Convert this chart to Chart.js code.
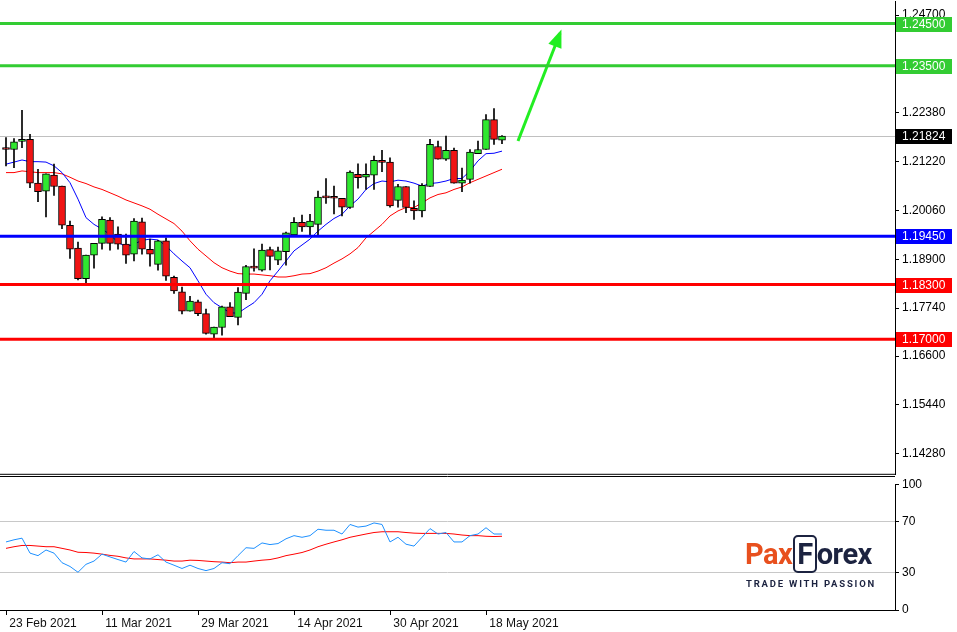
<!DOCTYPE html>
<html>
<head>
<meta charset="utf-8">
<script src="https://cdn.jsdelivr.net/npm/chart.js@4.4.0/dist/chart.umd.min.js"></script>
<style>
  body { margin: 0; background: #fff; width: 957px; height: 632px; overflow: hidden; position: relative; font-family: "Liberation Sans", Arial, sans-serif; }
  #main { position: absolute; left: 0; top: -9px; }
  #rsi { position: absolute; left: 0; top: 474px; }
  .logo { position: absolute; left: 745px; top: 538px; font-family: Roboto, sans-serif; font-weight: 700; font-size: 29px; letter-spacing: -0.5px; line-height: 32px; }
  .logo .o { color: #e8501e; }
  .logo .n { color: #1c2340; }
  .logo .f { color: #1c2340; border: 2px solid #1c2340; border-radius: 5px; padding: 0 2px; margin-left: 1px; }
  .tag { position: absolute; left: 746px; top: 578px; font-family: Roboto, sans-serif; font-weight: 700; font-size: 9.5px; letter-spacing: 1.8px; color: #1c2340; }
</style>
</head>
<body>
<canvas id="main" width="957" height="494"></canvas>
<canvas id="rsi" width="957" height="158"></canvas>
<div class="logo"><span class="o">Pax</span><span class="f">F</span><span class="n">orex</span></div>
<div class="tag">TRADE WITH PASSION</div>
<script>
// EURUSD daily, 63 candles
const opens  = [1.2155,1.2151,1.2170,1.2175,1.2071,1.2052,1.2090,1.2064,1.1971,1.1917,1.1844,1.1900,1.1928,1.1983,1.1950,1.1926,1.1902,1.1979,1.1914,1.1878,1.1934,1.1847,1.1813,1.1767,1.1789,1.1761,1.1712,1.1728,1.1777,1.1752,1.1809,1.1874,1.1864,1.1913,1.1888,1.1908,1.1948,1.1978,1.1967,1.1973,1.2039,1.2036,1.2035,1.2013,1.2092,1.2085,1.2090,1.2125,1.2121,1.2030,1.2063,1.2011,1.2005,1.2063,1.2158,1.2128,1.2149,1.2071,1.2080,1.2141,1.2151,1.2222,1.2173];
const highs  = [1.2179,1.2177,1.2244,1.2187,1.2104,1.2093,1.2116,1.2064,1.1981,1.1931,1.1900,1.1928,1.1991,1.1989,1.1967,1.1950,1.1987,1.1988,1.1938,1.1935,1.1941,1.1850,1.1824,1.1802,1.1793,1.1772,1.1729,1.1779,1.1787,1.1823,1.1876,1.1915,1.1926,1.1919,1.1919,1.1955,1.1989,1.1995,1.1997,1.2052,1.2082,1.2064,1.2035,1.2100,1.2117,1.2117,1.2135,1.2149,1.2131,1.2068,1.2063,1.2029,1.2070,1.2175,1.2171,1.2183,1.2154,1.2107,1.2151,1.2171,1.2234,1.2248,1.2184];
const lows   = [1.2112,1.2108,1.2155,1.2060,1.2027,1.1991,1.2042,1.1963,1.1892,1.1841,1.1832,1.1869,1.1914,1.1912,1.1914,1.1880,1.1886,1.1902,1.1874,1.1864,1.1840,1.1809,1.1760,1.1767,1.1756,1.1712,1.1703,1.1710,1.1754,1.1734,1.1794,1.1862,1.1862,1.1865,1.1877,1.1876,1.1948,1.1956,1.1948,1.1948,1.2023,1.1998,1.1993,1.2011,1.2059,1.2056,1.2056,1.2098,1.2014,1.2014,1.2001,1.1985,1.1991,1.2063,1.2128,1.2125,1.2071,1.2051,1.2071,1.2141,1.2151,1.2163,1.2165];
const closes = [1.2151,1.2169,1.2175,1.2071,1.2051,1.2093,1.2063,1.1971,1.1914,1.1844,1.1900,1.1928,1.1985,1.1928,1.1926,1.1900,1.1981,1.1914,1.1902,1.1934,1.1850,1.1815,1.1767,1.1791,1.1761,1.1714,1.1729,1.1777,1.1754,1.1812,1.1873,1.1869,1.1912,1.1897,1.1910,1.1953,1.1978,1.1967,1.1981,1.2038,1.2036,1.2035,1.2014,1.2097,1.2084,1.2092,1.2125,1.2120,1.2017,1.2063,1.2013,1.2005,1.2066,1.2163,1.2128,1.2149,1.2071,1.2078,1.2145,1.2151,1.2222,1.2175,1.2183];
const maFast = [1.2116,1.2121,1.2126,1.2122,1.2122,1.2121,1.2112,1.2096,1.2072,1.2033,1.1989,1.1973,1.1962,1.1949,1.1930,1.1920,1.1926,1.1935,1.1938,1.1936,1.1922,1.1903,1.1886,1.1870,1.1839,1.1807,1.1787,1.1775,1.1763,1.1762,1.1775,1.1787,1.1807,1.1839,1.1862,1.1886,1.1910,1.1924,1.1938,1.1957,1.1973,1.1987,1.1997,1.2017,1.2033,1.2056,1.2070,1.2076,1.2074,1.2078,1.2076,1.2071,1.2064,1.2070,1.2072,1.2076,1.2082,1.2082,1.2100,1.2124,1.2141,1.2142,1.2147];
const maSlow = [1.2096,1.2096,1.2100,1.2098,1.2096,1.2096,1.2096,1.2093,1.2085,1.2076,1.2070,1.2062,1.2056,1.2048,1.2040,1.2031,1.2024,1.2017,1.2009,1.1997,1.1986,1.1975,1.1957,1.1934,1.1914,1.1898,1.1882,1.1870,1.1862,1.1856,1.1855,1.1855,1.1853,1.1851,1.1848,1.1848,1.1851,1.1855,1.1856,1.1862,1.1870,1.1881,1.1891,1.1903,1.1918,1.1941,1.1957,1.1973,1.1993,1.2005,1.2013,1.2013,1.2024,1.2036,1.2044,1.2048,1.2056,1.2062,1.2072,1.2080,1.2088,1.2096,1.2104];
const rsiVals = [54.1,55.8,57.1,45.2,43.2,47.7,45.2,37.6,34.6,30.0,36.3,38.9,44.4,42.2,40.1,38.1,46.5,41.4,40.6,43.9,38.1,35.6,33.0,35.6,33.0,31.3,33.0,37.6,36.8,43.2,49.5,49.0,53.3,52.0,52.8,56.6,59.1,57.8,59.1,64.2,63.4,63.4,60.4,68.0,65.9,66.7,69.2,68.0,54.1,57.8,52.3,50.8,57.8,64.7,60.4,61.6,54.1,54.1,59.1,60.4,65.4,60.4,60.4];
const rsiSignal = [49.0,50.3,51.3,51.3,50.8,50.3,50.3,49.0,47.7,45.9,45.7,45.2,44.4,43.4,42.7,41.4,40.6,40.6,40.6,40.1,39.6,38.9,38.9,39.6,39.4,38.9,38.4,38.1,37.6,38.1,38.1,38.9,39.6,40.1,41.4,43.2,44.4,45.7,47.7,50.3,52.3,54.1,55.8,57.8,59.1,60.4,61.6,62.2,62.2,62.2,61.6,61.1,60.9,60.9,60.9,60.9,60.4,59.6,59.1,59.1,58.6,58.4,58.6];
const priceTicks = [1.2470,1.2238,1.2122,1.2006,1.1890,1.1774,1.1660,1.1544,1.1428];
const rsiTicks = [0,30,70,100];
const dateIdx = [0,12,24,36,48,60];
const dateLabels = ['23 Feb 2021','11 Mar 2021','29 Mar 2021','14 Apr 2021','30 Apr 2021','18 May 2021'];
const greenLevels = [1.2450,1.2350];
const blueLevels = [1.1945];
const redLevels = [1.1830,1.1700];
const lastPrice = 1.21824;
const arrowFrom = [64,1.2171];
const arrowTo = [69.25,1.2427];

const X_MIN = -0.75, X_MAX = 111.125;
const GREEN = '#33cc33', RED = '#ff0000', UP = '#2fe82f', DOWN = '#f01414';

const bodies = opens.map((o, i) => ({x: i, y: [o, closes[i]]}));
const wicks = lows.map((l, i) => ({x: i, y: [l, highs[i]]}));
const fixWidth = s => { s.width = 62; };

const levelPlugin = {
  id: 'levels',
  beforeDatasetsDraw(chart) {
    const {ctx, chartArea: a, scales: {y}} = chart;
    const py = Math.round(y.getPixelForValue(lastPrice)) + 0.5;
    ctx.save();
    ctx.strokeStyle = '#c0c0c0'; ctx.lineWidth = 1;
    ctx.beginPath(); ctx.moveTo(a.left, py); ctx.lineTo(a.right, py); ctx.stroke();
    ctx.restore();
  },
  afterDatasetsDraw(chart) {
    const {ctx, chartArea: a, scales: {x, y}} = chart;
    ctx.save();
    const line = (v, c) => {
      const py = y.getPixelForValue(v);
      ctx.strokeStyle = c; ctx.lineWidth = 3;
      ctx.beginPath(); ctx.moveTo(a.left, py); ctx.lineTo(a.right, py); ctx.stroke();
    };
    greenLevels.forEach(v => line(v, GREEN));
    blueLevels.forEach(v => line(v, '#0000ff'));
    redLevels.forEach(v => line(v, RED));
    // arrow head
    const x1 = x.getPixelForValue(arrowFrom[0]), y1 = y.getPixelForValue(arrowFrom[1]);
    const x2 = x.getPixelForValue(arrowTo[0]), y2 = y.getPixelForValue(arrowTo[1]);
    const ang = Math.atan2(y2 - y1, x2 - x1);
    ctx.fillStyle = '#22ee22';
    ctx.beginPath();
    ctx.moveTo(x2 + 4 * Math.cos(ang), y2 + 4 * Math.sin(ang));
    ctx.lineTo(x2 - 14 * Math.cos(ang) + 7 * Math.sin(ang), y2 - 14 * Math.sin(ang) - 7 * Math.cos(ang));
    ctx.lineTo(x2 - 14 * Math.cos(ang) - 7 * Math.sin(ang), y2 - 14 * Math.sin(ang) + 7 * Math.cos(ang));
    ctx.closePath(); ctx.fill();
    ctx.restore();
  },
  afterDraw(chart) {
    const {ctx, chartArea: a, scales: {y}} = chart;
    ctx.save();
    ctx.strokeStyle = '#000'; ctx.lineWidth = 1;
    ctx.beginPath(); ctx.moveTo(0, a.bottom - 0.5); ctx.lineTo(a.right, a.bottom - 0.5); ctx.stroke();
    ctx.font = '12px "Liberation Sans", Arial';
    ctx.textBaseline = 'middle';
    const box = (v, bg, txt) => {
      const py = Math.round(y.getPixelForValue(v));
      ctx.fillStyle = bg; ctx.fillRect(a.right + 1, py - 7, 56, 15);
      ctx.fillStyle = '#fff'; ctx.fillText(txt, a.right + 7, py + 1);
    };
    greenLevels.forEach(v => box(v, GREEN, v.toFixed(5)));
    blueLevels.forEach(v => box(v, '#0000ff', v.toFixed(5)));
    redLevels.forEach(v => box(v, RED, v.toFixed(5)));
    box(lastPrice, '#000', lastPrice.toFixed(5));
    ctx.restore();
  }
};

new Chart(document.getElementById('main'), {
  type: 'bar',
  data: {
    datasets: [
      {data: bodies, order: 0, grouped: false, barThickness: 7, minBarLength: 2,
       backgroundColor: opens.map((o, i) => closes[i] >= o ? UP : DOWN), borderColor: '#000', borderWidth: 1, borderSkipped: false},
      {data: wicks, order: 1, grouped: false, barThickness: 1, backgroundColor: '#000', borderWidth: 0},
      {type: 'line', data: maFast.map((v, i) => ({x: i, y: v})), order: 2, borderColor: '#0000ff', borderWidth: 1, pointRadius: 0},
      {type: 'line', data: maSlow.map((v, i) => ({x: i, y: v})), order: 2, borderColor: '#ff0000', borderWidth: 1, pointRadius: 0},
      {type: 'line', data: [{x: arrowFrom[0], y: arrowFrom[1]}, {x: arrowTo[0], y: arrowTo[1]}], order: 0, borderColor: '#22ee22', borderWidth: 3, pointRadius: 0}
    ]
  },
  options: {
    responsive: false, animation: false,
    layout: {padding: 0},
    plugins: {legend: {display: false}, tooltip: {enabled: false}},
    scales: {
      x: {type: 'linear', min: X_MIN, max: X_MAX, offset: false, display: false},
      y: {position: 'right', min: 1.13781, max: 1.25032, afterFit: fixWidth,
          afterBuildTicks: s => { s.ticks = priceTicks.map(v => ({value: v})); },
          grid: {drawOnChartArea: false, tickLength: 4, tickColor: '#000'},
          border: {color: '#000'},
          ticks: {padding: 3, color: '#000', font: {family: '"Liberation Sans", Arial', size: 12}, callback: v => v.toFixed(5)}}
    }
  },
  plugins: [levelPlugin]
});

const rsiFrame = {
  id: 'rsiFrame',
  afterDraw(chart) {
    const {ctx, chartArea: a} = chart;
    ctx.save();
    ctx.strokeStyle = '#000'; ctx.lineWidth = 1;
    ctx.beginPath(); ctx.moveTo(0, 2.5); ctx.lineTo(a.right, 2.5); ctx.stroke();
    ctx.restore();
  }
};

new Chart(document.getElementById('rsi'), {
  type: 'line',
  data: {
    datasets: [
      {data: rsiVals.map((v, i) => ({x: i, y: v})), borderColor: '#1e90ff', borderWidth: 1, pointRadius: 0},
      {data: rsiSignal.map((v, i) => ({x: i, y: v})), borderColor: '#ff0000', borderWidth: 1, pointRadius: 0}
    ]
  },
  options: {
    responsive: false, animation: false,
    layout: {padding: {top: 4}},
    plugins: {legend: {display: false}, tooltip: {enabled: false}},
    scales: {
      x: {type: 'linear', min: X_MIN, max: X_MAX, offset: false,
          afterBuildTicks: s => { s.ticks = dateIdx.map(v => ({value: v})); },
          afterFit: s => { s.height = 22; },
          grid: {drawOnChartArea: false, tickLength: 5, tickColor: '#000'},
          border: {color: '#000'},
          ticks: {align: 'start', maxRotation: 0, autoSkip: false, padding: 1, color: '#111',
                  font: {family: '"Liberation Sans", Arial', size: 12},
                  callback: v => ' ' + dateLabels[dateIdx.indexOf(v)]}},
      y: {position: 'right', min: 0, max: 100, afterFit: fixWidth,
          afterBuildTicks: s => { s.ticks = rsiTicks.map(v => ({value: v})); },
          grid: {color: c => (c.tick.value === 30 || c.tick.value === 70) ? '#c8c8c8' : 'rgba(0,0,0,0)',
                 tickColor: '#000', tickLength: 4, borderDash: [3, 3]},
          border: {color: '#000'},
          ticks: {padding: 3, color: '#000', font: {family: '"Liberation Sans", Arial', size: 12}}}
    }
  },
  plugins: [rsiFrame]
});
</script>
</body>
</html>
